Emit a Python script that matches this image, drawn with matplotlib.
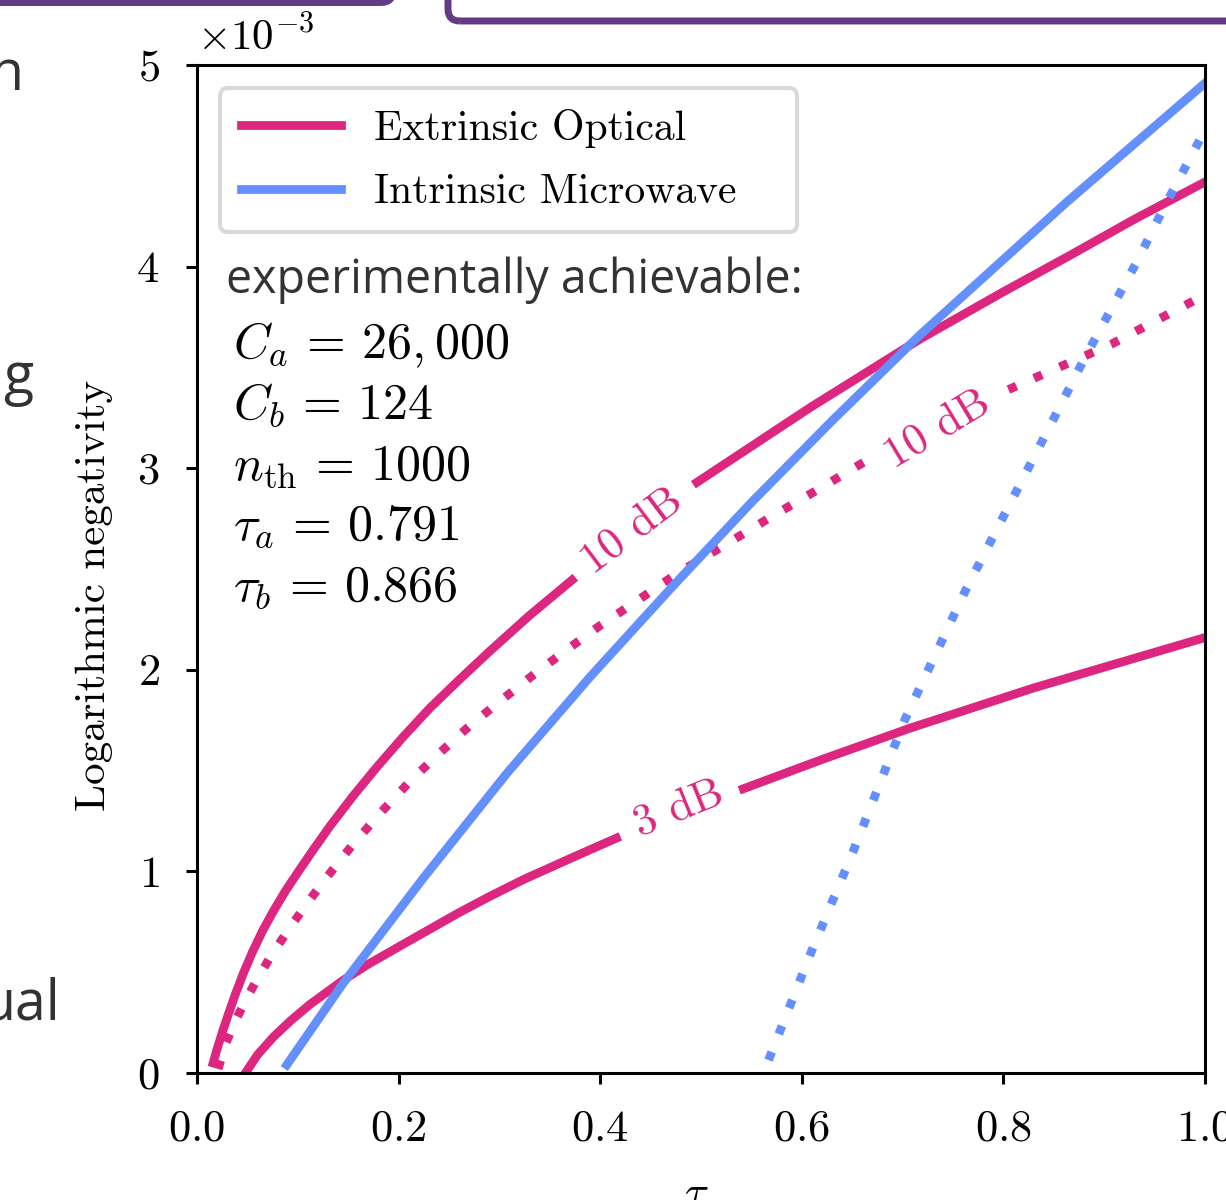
import numpy as np
import matplotlib
matplotlib.use("Agg")
import matplotlib.pyplot as plt
from matplotlib.patches import FancyBboxPatch

nan = np.nan

# curves (tau_c, log. negativity in 1e-3); nan = label gap
opt10_tau = [0.016, 0.020, 0.025, 0.031, 0.038, 0.046, 0.055, 0.065, 0.076, 0.088,
             0.100, 0.115, 0.132, 0.155, 0.178, 0.205, 0.231, 0.260, 0.291, 0.330,
             0.372, nan, 0.496, 0.608, 0.717, 0.80, 0.864, 0.93, 1.0]
opt10_L = [0.05, 0.12, 0.20, 0.29, 0.39, 0.495, 0.60, 0.705, 0.805, 0.905,
           0.995, 1.105, 1.225, 1.375, 1.515, 1.67, 1.81, 1.95, 2.095, 2.27,
           2.445, nan, 2.93, 3.30, 3.64, 3.875, 4.05, 4.235, 4.42]

opt10dot_tau = [0.021, 0.028, 0.036, 0.046, 0.058, 0.072, 0.088, 0.106, 0.127, 0.154,
                0.182, 0.210, 0.239, 0.270, 0.302, 0.335, 0.367, 0.400, 0.433, 0.477,
                0.524, 0.570, 0.618, 0.665, nan, 0.805, 0.907, 1.0]
opt10dot_L = [0.02, 0.14, 0.235, 0.34, 0.45, 0.57, 0.69, 0.82, 0.96, 1.13,
              1.29, 1.44, 1.58, 1.72, 1.85, 1.98, 2.10, 2.22, 2.33, 2.48,
              2.62, 2.76, 2.90, 3.04, nan, 3.39, 3.615, 3.86]

opt3_tau = [0.048, 0.060, 0.076, 0.093, 0.112, 0.145, 0.170, 0.198, 0.228, 0.258,
            0.290, 0.324, 0.373, 0.416, nan, 0.542, 0.62, 0.707, 0.83, 1.0]
opt3_L = [0.0, 0.09, 0.18, 0.26, 0.34, 0.46, 0.54, 0.62, 0.705, 0.79,
          0.875, 0.96, 1.07, 1.165, nan, 1.41, 1.555, 1.71, 1.91, 2.16]

mw_tau = [0.089, 0.145, 0.225, 0.308, 0.39, 0.473, 0.55, 0.63, 0.717, 0.864, 1.0]
mw_L = [0.04, 0.445, 0.97, 1.49, 1.965, 2.42, 2.83, 3.235, 3.66, 4.325, 4.91]

mwdot_tau = [0.567, 0.608, 0.651, 0.702, 0.763, 0.837, 0.881, 0.932, 0.96, 0.995]
mwdot_L = [0.064, 0.584, 1.10, 1.75, 2.40, 3.12, 3.55, 4.02, 4.30, 4.63]

x_ticks = [0.0, 0.2, 0.4, 0.6, 0.8, 1.0]
params = [r"$C_a\,=\,26,000$", r"$C_b\,=\,124$", r"$n_{\rm th}\,=\,1000$",
          r"$\tau_a\,=\,0.791$", r"$\tau_b\,=\,0.866$"]

PINK = "#DC267F"
BLUE = "#648FFF"
PURPLE = "#633A86"
GREY = "#333333"

plt.rcParams["font.family"] = "serif"
plt.rcParams["font.serif"] = ["cmr10"]
plt.rcParams["mathtext.fontset"] = "cm"
plt.rcParams["axes.formatter.use_mathtext"] = True

W, H = 1226, 1200
fig = plt.figure(figsize=(W / 100, H / 100), dpi=100)
ax = fig.add_axes([197 / W, 127 / H, 1008 / W, 1008 / H])

LW = 6.3
dots = (0, (1, 2.2))
l1, = ax.plot(opt10_tau, np.array(opt10_L) * 1e-3, color=PINK, lw=LW)
ax.plot(opt10dot_tau, np.array(opt10dot_L) * 1e-3, color=PINK, lw=LW, ls=dots)
ax.plot(opt3_tau, np.array(opt3_L) * 1e-3, color=PINK, lw=LW)
l2, = ax.plot(mw_tau, np.array(mw_L) * 1e-3, color=BLUE, lw=LW)
ax.plot(mwdot_tau, np.array(mwdot_L) * 1e-3, color=BLUE, lw=LW, ls=dots)

# inline labels
ax.text(0.432, 2.69e-3, "10 dB", rotation=37, color=PINK, fontsize=32,
        ha="center", va="center", rotation_mode="anchor")
ax.text(0.735, 3.19e-3, "10 dB", rotation=31, color=PINK, fontsize=32,
        ha="center", va="center", rotation_mode="anchor")
ax.text(0.478, 1.31e-3, "3 dB", rotation=22, color=PINK, fontsize=32,
        ha="center", va="center", rotation_mode="anchor")

ax.set_xlim(0, 1)
ax.set_ylim(0, 5e-3)
ax.set_xticks(x_ticks)
ax.ticklabel_format(axis="y", style="sci", scilimits=(0, 0), useMathText=True)
ax.yaxis.get_offset_text().set_visible(False)
ax.text(0.0, 1 + 15 / 1008, r"$\times10^{-3}$", transform=ax.transAxes,
        fontsize=31, va="baseline", ha="left")
ax.tick_params(direction="out", length=8, width=2.2, labelsize=32)
ax.tick_params(axis="x", pad=18)
ax.tick_params(axis="y", pad=19)
for s in ax.spines.values():
    s.set_linewidth(2.2)

ax.set_ylabel("Logarithmic negativity", fontsize=31)
ax.yaxis.set_label_coords(-0.083, 0.474)
ax.set_xlabel(r"$\tau_c$", fontsize=32, labelpad=19)

leg_h = (232 - 88) / 1008
leg = ax.legend([l1, l2], ["Extrinsic Optical", "Intrinsic Microwave"],
                loc="upper left", mode="expand",
                bbox_to_anchor=(0.0228, 0.977 - leg_h, (797 - 220) / 1008, leg_h),
                borderaxespad=0, fontsize=30, handlelength=2.4, handletextpad=0.8,
                labelspacing=0.62, borderpad=0.5,
                edgecolor="#d9d9d9", framealpha=1, fancybox=True)
leg.get_frame().set_linewidth(3)

fig.text(226 / W, 1 - 293 / H, "experimentally achievable:", family="Open Sans",
         fontsize=33.5, color=GREY, va="baseline")
for i, p in enumerate(params):
    fig.text(233 / W, 1 - (358 + 60.5 * i) / H, p, fontsize=36, va="baseline")

# bits of the slide around the figure
fig.add_artist(FancyBboxPatch((-0.5, 11.975), 4.43, 1.5,
                              boxstyle="round,pad=0,rounding_size=0.12",
                              transform=fig.dpi_scale_trans, fc="none", ec=PURPLE, lw=5))
fig.add_artist(FancyBboxPatch((4.48, 11.79), 10, 2,
                              boxstyle="round,pad=0,rounding_size=0.12",
                              transform=fig.dpi_scale_trans, fc="none", ec=PURPLE, lw=5))
for txt, x, y in [("n", 23, 90), ("g", 33, 393), ("ual", 60, 1020)]:
    fig.text(x / W, 1 - y / H, txt, ha="right", va="baseline", family="Open Sans",
             fontsize=40, color=GREY)

fig.savefig("out.png", dpi=100)
